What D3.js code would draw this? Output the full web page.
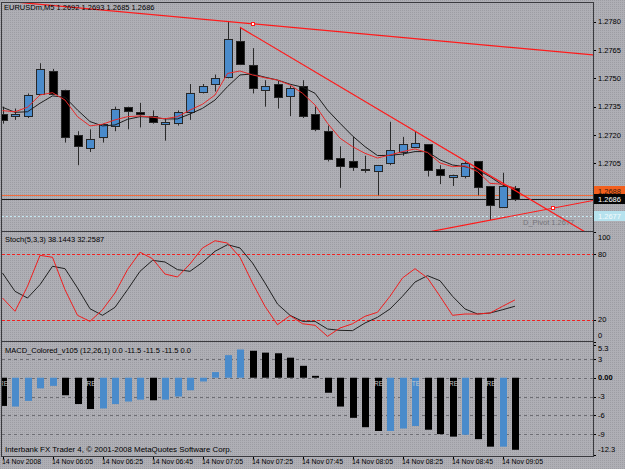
<!DOCTYPE html>
<meta charset="utf-8">
<script src="https://d3js.org/d3.v7.min.js"></script>
<style>
  body { margin: 0; }
  svg text { font-family: "Liberation Sans", Arial, sans-serif; font-size: 7.5px; fill: #000; }
</style>
<div id="chart"></div>
<script>
// ---- data ----
var barOpen  = [1.2731,1.2730,1.2730,1.2742,1.2754,1.2744,1.2720,1.2713,1.2719,1.2725,1.2735,1.2732,1.2730,1.2726,1.2726,1.2732,1.2743,1.2747,1.2751,1.2770,1.2757,
                1.2744,1.2747,1.2741,1.2746,1.2731,1.2722,1.2708,1.2706,1.2702,1.2701,1.2705,1.2711,1.2714,1.2715,1.2702,1.2698,1.2698,1.2706,1.2693,1.2682,1.2692];
var barHigh  = [1.2735,1.2734,1.2742,1.2758,1.2755,1.2744,1.2722,1.2723,1.2726,1.2735,1.2735,1.2737,1.2733,1.2729,1.2733,1.2747,1.2747,1.2752,1.2780,1.2777,1.2766,
                1.2749,1.2749,1.2746,1.2749,1.2735,1.2725,1.2714,1.2719,1.2709,1.2704,1.2727,1.2719,1.2722,1.2715,1.2704,1.2699,1.2706,1.2706,1.2693,1.2700,1.2693];
var barLow   = [1.2726,1.2728,1.2729,1.2742,1.2742,1.2716,1.2704,1.2711,1.2716,1.2722,1.2723,1.2724,1.2726,1.2717,1.2725,1.2728,1.2742,1.2743,1.2750,1.2757,1.2742,
                1.2735,1.2734,1.2730,1.2729,1.2722,1.2706,1.2692,1.2701,1.2700,1.2688,1.2704,1.2709,1.2714,1.2698,1.2694,1.2693,1.2697,1.2688,1.2675,1.2682,1.2685];
var barClose = [1.2728,1.2731,1.2741,1.2755,1.2742,1.2719,1.2714,1.2718,1.2726,1.2734,1.2733,1.2731,1.2727,1.2727,1.2732,1.2742,1.2746,1.2750,1.2771,1.2758,1.2745,
                1.2746,1.2740,1.2745,1.2730,1.2723,1.2707,1.2704,1.2703,1.2702,1.2704,1.2712,1.2715,1.2716,1.2701,1.2699,1.2699,1.2705,1.2692,1.2683,1.2693,1.2686];

var maFast = [1.27329,1.27323,1.27347,1.27412,1.27424,1.27385,1.27297,1.27248,1.27257,1.27280,1.27297,1.27301,1.27294,1.27286,1.27297,1.27332,1.27363,1.27412,1.27526,1.27539,1.27518,
              1.27503,1.27491,1.27465,1.27421,1.27359,1.27262,1.27183,1.27138,1.27103,1.27078,1.27094,1.27112,1.27126,1.27107,1.27052,1.27032,1.27036,1.27006,1.26944,1.26939,1.26918];
var maSlow = [1.27347,1.27320,1.27323,1.27368,1.27407,1.27400,1.27332,1.27271,1.27248,1.27253,1.27283,1.27297,1.27294,1.27285,1.27285,1.27311,1.27341,1.27385,1.27456,1.27518,1.27523,
              1.27506,1.27491,1.27469,1.27453,1.27421,1.27332,1.27262,1.27195,1.27138,1.27091,1.27092,1.27099,1.27112,1.27112,1.27068,1.27041,1.27032,1.27015,1.26979,1.26935,1.26918];

var stochMain   = [39.8,27.7,50.5,78.8,77,47.4,24,18.5,29.1,44.4,65.7,81.6,75.7,61.7,59,70.9,85.5,92.1,90,77,53.5,
                   32.2,15.4,23.7,16.3,14.9,4.8,12.4,16.3,23.1,26.8,41.4,58.1,66.6,58.1,41.4,24,25.2,25.2,26.1,32.2,38.1];
var stochSignal = [62.6,45.9,39.8,52,68.8,66.6,49,30,24,31.3,47.4,64.2,74.2,72.7,65.7,64.2,72.4,82.5,88.5,85.5,71.8,
                   53.5,34.3,24,18.5,18.5,11.5,10.3,10,17,22.2,29.8,41.4,54.4,60.2,55.6,41.4,29.8,25.2,26.1,29.1,32.3];

var macdHist   = [-4.5,-4.6,-3.7,-1.7,-1.3,-2.8,-4.2,-5.0,-4.9,-4.2,-3.8,-3.5,-3.6,-3.5,-3.0,-2.0,-0.6,0.9,3.6,4.5,4.3,
                  4.0,3.9,3.2,1.9,0.3,-2.4,-4.6,-6.4,-7.9,-8.5,-8.5,-8.1,-7.7,-8.3,-9.0,-9.4,-9.1,-9.8,-11.0,-11.0,-11.5];
var macdRising = [0,1,1,1,1,0,0,0,1,1,1,1,0,1,1,1,1,1,1,1,0,0,0,0,0,0,0,0,0,0,0,1,1,1,0,0,0,1,0,0,1,0];
var macdTagBars  = [0, 7, 30, 33, 36, 39];
var macdTagTexts = ["RE", "RE", "RE", "TE", "RE", "RE"];

var priceTicks  = [1.2780, 1.2765, 1.2750, 1.2735, 1.2720, 1.2705, 1.2690, 1.2675];
var priceLabels = [1.2780, 1.2765, 1.2750, 1.2735, 1.2720, 1.2705];
var stochTicks  = [100, 80, 20, 0];
var stochLevels = [80, 20];
var macdTicks   = [5.3, 3, 0, -3, -6, -9, -12.3];
var macdLevels  = [3, 0, -3, -6, -9];

var timeLabels    = ["14 Nov 2008","14 Nov 06:05","14 Nov 06:25","14 Nov 06:45","14 Nov 07:05","14 Nov 07:25",
                     "14 Nov 07:45","14 Nov 08:05","14 Nov 08:25","14 Nov 08:45","14 Nov 09:05"];
var timeLabelBars = [0, 4, 8, 12, 16, 20, 24, 28, 32, 36, 40];

// trend lines: two anchor points [bar, price]
var trendLines = [
  {a: [20, 1.27789], b: [47.24, 1.27624], ray: false},
  {a: [19, 1.2777],  b: [35, 1.27142],    ray: true},
  {a: [35, 1.26698], b: [44, 1.26812],    ray: false}
];
var trendMarks = [[20, 1.27789], [44, 1.26812]];

var bidPrice = 1.2686, orangePrice = 1.2688, pivotPrice = 1.2677;

// ---- layout ----
var W = 625, H = 469;
var plotL = 2, plotR = 593;
var mainP  = {top: 3,   bottom: 231};
var stochP = {top: 232, bottom: 341};
var macdP  = {top: 342, bottom: 456};

var x = d3.scaleLinear().domain([0, 41]).range([2.5, 515]);
var yMain  = d3.scaleLinear().domain([1.2705, 1.2780]).range([163.3, 21.7]);
var yStoch = d3.scaleLinear().domain([0, 100]).range([341.6, 232.1]);
var yMacd  = d3.scaleLinear().domain([-12.3, 5.3]).range([454.8, 344.5]);

var blue = "#4a8bcb";
var bars = d3.range(barOpen.length);

var svg = d3.select("#chart").append("svg").attr("width", W).attr("height", H);
var defs = svg.append("defs");

// dithered gray background like the gif
var pat = defs.append("pattern").attr("id", "bg").attr("width", 2).attr("height", 2)
  .attr("patternUnits", "userSpaceOnUse");
pat.append("rect").attr("width", 2).attr("height", 2).attr("fill", "#afafb5");
pat.append("rect").attr("width", 1).attr("height", 1).attr("fill", "#9d9da3");
svg.append("rect").attr("width", W).attr("height", H).attr("fill", "url(#bg)");

function clip(id, p) {
  defs.append("clipPath").attr("id", id).append("rect")
    .attr("x", plotL).attr("y", p.top).attr("width", plotR - plotL).attr("height", p.bottom - p.top);
  return svg.append("g").attr("clip-path", "url(#" + id + ")");
}
function crisp(v) { return Math.round(v) + 0.5; }

// ===== main panel =====
var gm = clip("cm", mainP);

// horizontal lines
gm.append("line").attr("x1", plotL).attr("x2", plotR)
  .attr("y1", crisp(yMain(pivotPrice))).attr("y2", crisp(yMain(pivotPrice)))
  .attr("stroke", "#c4e8f2").attr("stroke-dasharray", "2,2");
gm.append("line").attr("x1", plotL).attr("x2", plotR)
  .attr("y1", crisp(yMain(orangePrice))).attr("y2", crisp(yMain(orangePrice)))
  .attr("stroke", "#f26a3a");
gm.append("line").attr("x1", plotL).attr("x2", plotR)
  .attr("y1", crisp(yMain(bidPrice))).attr("y2", crisp(yMain(bidPrice)))
  .attr("stroke", "#1a1a1a");

gm.append("text").attr("x", 523).attr("y", crisp(yMain(pivotPrice)) + 8)
  .style("fill", "#74747a").text("D_Pivot 1.2677");

// candles
gm.selectAll(".wick").data(bars).enter().append("line")
  .attr("x1", function(i) { return crisp(x(i)); })
  .attr("x2", function(i) { return crisp(x(i)); })
  .attr("y1", function(i) { return yMain(barHigh[i]); })
  .attr("y2", function(i) { return yMain(barLow[i]); })
  .attr("stroke", "#2a2a2a");

gm.selectAll(".body").data(bars).enter().append("rect")
  .attr("x", function(i) { return Math.round(x(i)) - 3.5; })
  .attr("width", 8)
  .attr("y", function(i) { return Math.round(yMain(Math.max(barOpen[i], barClose[i]))) + 0.5; })
  .attr("height", function(i) {
    return Math.max(1, Math.round(Math.abs(yMain(barOpen[i]) - yMain(barClose[i]))));
  })
  .attr("fill", function(i) { return barClose[i] > barOpen[i] ? blue : "#000"; })
  .attr("stroke", "#262626");

// moving averages
var lineMain = function(arr) {
  return d3.line().x(function(i) { return x(i); }).y(function(i) { return yMain(arr[i]); });
};
gm.append("path").attr("d", lineMain(maSlow)(bars)).attr("fill", "none").attr("stroke", "#1e1e1e");
gm.append("path").attr("d", lineMain(maFast)(bars)).attr("fill", "none").attr("stroke", "#e82a2a");

// trend lines
trendLines.forEach(function(t) {
  var x1 = x(t.a[0]), y1 = yMain(t.a[1]), x2 = x(t.b[0]), y2 = yMain(t.b[1]);
  var k = (y2 - y1) / (x2 - x1);
  var xs = t.ray ? x1 : plotL - 10, xe = plotR + 10;
  gm.append("line").attr("x1", xs).attr("y1", y1 + k * (xs - x1))
    .attr("x2", xe).attr("y2", y1 + k * (xe - x1))
    .attr("stroke", "#ff1a1a").attr("stroke-width", 1.2);
});
gm.selectAll(".mark").data(trendMarks).enter().append("rect")
  .attr("x", function(d) { return Math.round(x(d[0])) - 1.5; })
  .attr("y", function(d) { return Math.round(yMain(d[1])) - 1.5; })
  .attr("width", 3).attr("height", 3)
  .attr("fill", "#fff").attr("stroke", "#ff1a1a");

svg.append("text").attr("x", 4).attr("y", 10).text("EURUSDm,M5  1.2692 1.2693 1.2685 1.2686");

// price axis (labels under the price boxes are covered in the original)
var pa = svg.append("g").attr("transform", "translate(" + plotR + ",0)");
pa.selectAll("line").data(priceTicks).enter().append("line")
  .attr("x1", 0).attr("x2", 3)
  .attr("y1", function(d) { return crisp(yMain(d)); }).attr("y2", function(d) { return crisp(yMain(d)); })
  .attr("stroke", "#000");
pa.selectAll("text").data(priceLabels).enter().append("text")
  .attr("x", 5).attr("y", function(d) { return yMain(d); }).attr("dy", "0.35em")
  .text(function(d) { return d.toFixed(4); });

function priceBox(price, fill, color, shift) {
  var yy = Math.round(yMain(price)) + shift;
  pa.append("rect").attr("x", 1).attr("y", yy - 5).attr("width", 31).attr("height", 10).attr("fill", fill);
  pa.append("text").attr("x", 5).attr("y", yy).attr("dy", "0.35em").style("fill", color).text(price.toFixed(4));
}
priceBox(orangePrice, "#f2601e", "#3a1a0a", -4);
priceBox(bidPrice, "#050505", "#ffffff", 0);
priceBox(pivotPrice, "#b6e2ee", "#f4fbfd", 0);

// ===== stochastic panel =====
var gs = clip("cs", stochP);
stochLevels.forEach(function(v) {
  gs.append("line").attr("x1", plotL).attr("x2", plotR)
    .attr("y1", crisp(yStoch(v))).attr("y2", crisp(yStoch(v)))
    .attr("stroke", "#f02020").attr("stroke-dasharray", "3,2");
});
var lineStoch = function(arr) {
  return d3.line().x(function(i) { return x(i); }).y(function(i) { return yStoch(arr[i]); });
};
gs.append("path").attr("d", lineStoch(stochSignal)(bars)).attr("fill", "none").attr("stroke", "#202020");
gs.append("path").attr("d", lineStoch(stochMain)(bars)).attr("fill", "none").attr("stroke", "#f01e1e");
svg.append("text").attr("x", 5).attr("y", 242).text("Stoch(5,3,3) 38.1443 32.2587");

var sa = svg.append("g").attr("transform", "translate(" + plotR + ",0)");
stochTicks.forEach(function(v) {
  var yy = Math.min(Math.max(yStoch(v), stochP.top + 5), stochP.bottom - 5.5);
  sa.append("line").attr("x1", 0).attr("x2", 3).attr("y1", crisp(yStoch(v))).attr("y2", crisp(yStoch(v)))
    .attr("stroke", "#000");
  sa.append("text").attr("x", 5).attr("y", yy).attr("dy", "0.35em").text(v);
});

// ===== MACD panel =====
var gd = clip("cd", macdP);
macdLevels.forEach(function(v) {
  gd.append("line").attr("x1", plotL).attr("x2", plotR)
    .attr("y1", crisp(yMacd(v))).attr("y2", crisp(yMacd(v)))
    .attr("stroke", "#6e6e74").attr("stroke-dasharray", "3,3");
});
gd.selectAll(".hist").data(bars).enter().append("rect")
  .attr("x", function(i) { return Math.round(x(i)) - 3; })
  .attr("width", 7)
  .attr("y", function(i) { return yMacd(Math.max(0, macdHist[i])); })
  .attr("height", function(i) { return Math.abs(yMacd(macdHist[i]) - yMacd(0)); })
  .attr("fill", function(i) { return macdRising[i] ? blue : "#000"; });
gd.selectAll(".tag").data(macdTagBars).enter().append("text")
  .attr("x", function(i) { return x(i) + 1; })
  .attr("y", yMacd(0) + 8)
  .attr("text-anchor", "middle")
  .style("font-size", "6.5px").style("fill", "#c8c8cc")
  .text(function(d, k) { return macdTagTexts[k]; });

svg.append("text").attr("x", 5).attr("y", 353).text("MACD_Colored_v105 (12,26,1) 0.0 -11.5 -11.5 -11.5 0.0");
svg.append("text").attr("x", 5).attr("y", 451.5).style("font-size", "7.9px")
  .text("Interbank FX Trader 4, \u00a9 2001-2008 MetaQuotes Software Corp.");

var ma = svg.append("g").attr("transform", "translate(" + plotR + ",0)");
macdTicks.forEach(function(v) {
  var yy = Math.min(Math.max(yMacd(v), macdP.top + 6), macdP.bottom - 6.5);
  ma.append("line").attr("x1", 0).attr("x2", 3).attr("y1", crisp(yMacd(v))).attr("y2", crisp(yMacd(v)))
    .attr("stroke", "#000");
  ma.append("text").attr("x", 5).attr("y", yy).attr("dy", "0.35em")
    .style("font-weight", v === 0 ? "bold" : "normal")
    .text(v === 0 ? "0.00" : v);
});

// ===== panel borders =====
[mainP, stochP, macdP].forEach(function(p) {
  svg.append("rect").attr("x", plotL - 0.5).attr("y", p.top - 0.5)
    .attr("width", plotR - plotL + 1).attr("height", p.bottom - p.top + 1)
    .attr("fill", "none").attr("stroke", "#3a3a3e");
});

// ===== time axis =====
var ta = svg.append("g");
ta.selectAll("line").data(timeLabelBars).enter().append("line")
  .attr("x1", function(i) { return crisp(x(i)); }).attr("x2", function(i) { return crisp(x(i)); })
  .attr("y1", macdP.bottom + 1).attr("y2", macdP.bottom + 3)
  .attr("stroke", "#000");
ta.selectAll("text").data(timeLabelBars).enter().append("text")
  .attr("x", function(i) { return x(i) - 0.5; })
  .attr("y", 464)
  .style("font-size", "6.9px")
  .text(function(d, k) { return timeLabels[k]; });
</script>
